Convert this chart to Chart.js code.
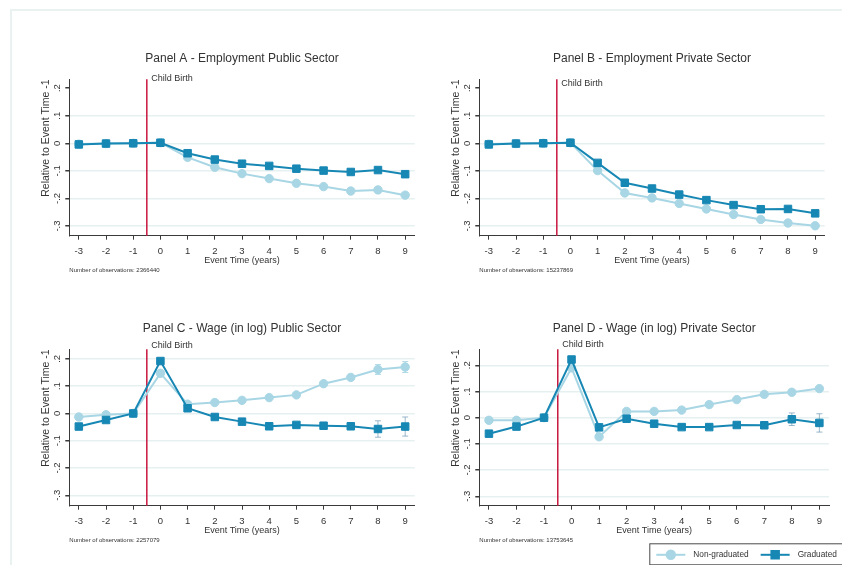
<!DOCTYPE html>
<html>
<head>
<meta charset="utf-8">
<script src="https://cdn.jsdelivr.net/npm/chart.js@4.4.1/dist/chart.umd.min.js"></script>
<style>
  html, body { margin: 0; padding: 0; background: #ffffff; overflow: hidden; }
  body { width: 842px; height: 565px; position: relative; }
  #frame { position: absolute; left: 10px; top: 9px; width: 900px; height: 600px;
           border-left: 2px solid #e9f1f1; border-top: 2px solid #e9f1f1; }
  canvas { position: absolute; }
</style>
</head>
<body>
<div id="frame"></div>
<canvas id="panelA" width="421" height="240" style="left:0px;top:40px"></canvas>
<canvas id="panelB" width="421" height="240" style="left:410px;top:40px"></canvas>
<canvas id="panelC" width="421" height="240" style="left:0px;top:310px"></canvas>
<canvas id="panelD" width="432" height="255" style="left:410px;top:310px"></canvas>
<script>
// Event time relative to the child's birth (years)
const eventTime = [-3, -2, -1, 0, 1, 2, 3, 4, 5, 6, 7, 8, 9];
const xTickValues = [-3, -2, -1, 0, 1, 2, 3, 4, 5, 6, 7, 8, 9];
const yTickValues = [-0.3, -0.2, -0.1, 0, 0.1, 0.2];
const yTickLabels = ['-.3', '-.2', '-.1', '0', '.1', '.2'];
const seriesNames = ['Non-graduated', 'Graduated'];
const panelTitles = [
  'Panel A - Employment Public Sector',
  'Panel B - Employment Private Sector',
  'Panel C - Wage (in log) Public Sector',
  'Panel D - Wage (in log) Private Sector'
];
const observationCounts = [2366440, 15237869, 2257079, 13753645];

// Estimated coefficients, relative to event time -1
const empPublicNonGrad  = [-0.003, -0.001, 0, 0.002, -0.051, -0.087, -0.110, -0.128, -0.145, -0.157, -0.173, -0.169, -0.188];
const empPublicGrad     = [-0.004, -0.001, 0, 0.002, -0.036, -0.059, -0.074, -0.082, -0.092, -0.099, -0.104, -0.097, -0.112];
const empPrivateNonGrad = [-0.003, -0.001, 0, 0.002, -0.099, -0.180, -0.198, -0.218, -0.238, -0.258, -0.276, -0.289, -0.299];
const empPrivateGrad    = [-0.004, -0.001, 0, 0.002, -0.071, -0.143, -0.164, -0.186, -0.206, -0.224, -0.239, -0.238, -0.254];
const wagePublicNonGrad = [-0.013, -0.005, 0, 0.147, 0.034, 0.040, 0.048, 0.058, 0.068, 0.109, 0.132, 0.161, 0.170];
const wagePublicGrad    = [-0.048, -0.024, 0, 0.192, 0.019, -0.013, -0.030, -0.047, -0.042, -0.045, -0.047, -0.057, -0.048];
const wagePrivateNonGrad = [-0.010, -0.010, 0, 0.190, -0.073, 0.024, 0.024, 0.029, 0.050, 0.069, 0.089, 0.097, 0.111];
const wagePrivateGrad    = [-0.061, -0.034, 0, 0.222, -0.037, -0.004, -0.023, -0.036, -0.036, -0.028, -0.029, -0.006, -0.020];

// Half-widths of the confidence intervals (only the visible ones)
const wagePublicNonGradCI  = [0, 0, 0, 0, 0, 0, 0, 0, 0, 0, 0, 0.018, 0.020];
const wagePublicGradCI     = [0, 0, 0, 0, 0, 0, 0, 0, 0, 0, 0, 0.030, 0.035];
const wagePrivateGradCI    = [0, 0, 0, 0, 0, 0, 0, 0, 0, 0, 0, 0.024, 0.035];

const FONT = "'Liberation Sans', Arial, Helvetica, sans-serif";
const TEXT = '#333333';
const GRAD = '#1787b4';
const NONGRAD = '#a8d6e4';
const BIRTH = '#c8173f';
const GRID = '#e6f0f0';
const AXIS = '#3a3a3a';

Chart.defaults.font.family = FONT;
Chart.defaults.color = TEXT;

const points = (vals) => eventTime.map((t, i) => ({ x: t, y: vals[i] }));

// Extra drawing: confidence bars, child-birth line, rotated y labels, legend
const stataExtras = {
  id: 'stataExtras',
  beforeDatasetsDraw(chart, args, opts) {
    const { ctx, chartArea, scales: { x, y } } = chart;
    chart.data.datasets.forEach((ds) => {
      if (!ds.ci) return;
      ctx.save();
      ctx.strokeStyle = ds.ciColor;
      ctx.lineWidth = 1;
      ds.data.forEach((p, i) => {
        const h = ds.ci[i];
        if (!h) return;
        const px = x.getPixelForValue(p.x);
        const y1 = y.getPixelForValue(p.y + h);
        const y2 = y.getPixelForValue(p.y - h);
        ctx.beginPath();
        ctx.moveTo(px, y1); ctx.lineTo(px, y2);
        ctx.moveTo(px - 3, y1); ctx.lineTo(px + 3, y1);
        ctx.moveTo(px - 3, y2); ctx.lineTo(px + 3, y2);
        ctx.stroke();
      });
      ctx.restore();
    });
    const bx = x.getPixelForValue(opts.eventAt);
    ctx.save();
    ctx.strokeStyle = BIRTH;
    ctx.lineWidth = 1.5;
    ctx.beginPath();
    ctx.moveTo(bx, chartArea.top);
    ctx.lineTo(bx, chartArea.bottom);
    ctx.stroke();
    ctx.restore();
  },
  afterDraw(chart, args, opts) {
    const { ctx, chartArea, scales: { x, y } } = chart;
    ctx.save();
    // y tick labels, written vertically
    ctx.fillStyle = TEXT;
    ctx.font = '9.5px ' + FONT;
    ctx.textAlign = 'center';
    ctx.textBaseline = 'middle';
    yTickValues.forEach((v, i) => {
      const py = y.getPixelForValue(v);
      ctx.save();
      ctx.translate(chartArea.left - 12, py);
      ctx.rotate(-Math.PI / 2);
      ctx.fillText(yTickLabels[i], 0, 0);
      ctx.restore();
    });
    // child birth note
    const bx = x.getPixelForValue(opts.eventAt);
    ctx.font = '9px ' + FONT;
    ctx.textAlign = 'left';
    ctx.fillText(opts.note, bx + 4.5, y.getPixelForValue(opts.noteY));
    // legend
    if (opts.legend) {
      const L = opts.legend;
      ctx.strokeStyle = '#4a4a4a';
      ctx.lineWidth = 1;
      ctx.strokeRect(L.x + 0.5, L.y + 0.5, 300, L.h);
      const cy = L.y + L.h / 2 + 1;
      const metas = [chart.data.datasets[1], chart.data.datasets[0]];
      let cx = L.x + 7;
      metas.forEach((ds) => {
        ctx.strokeStyle = ds.borderColor;
        ctx.lineWidth = ds.borderWidth;
        ctx.beginPath();
        ctx.moveTo(cx, cy); ctx.lineTo(cx + 29, cy);
        ctx.stroke();
        ctx.fillStyle = ds.pointBackgroundColor;
        ctx.strokeStyle = ds.pointBorderColor;
        Chart.helpers.drawPoint(ctx, {
          pointStyle: ds.pointStyle, radius: ds.pointRadius,
          borderWidth: ds.pointBorderWidth, rotation: 0
        }, cx + 14.5, cy);
        ctx.fillStyle = TEXT;
        ctx.font = '8.3px ' + FONT;
        ctx.textAlign = 'left';
        ctx.textBaseline = 'middle';
        ctx.fillText(ds.label, cx + 37, cy);
        cx += 37 + ctx.measureText(ds.label).width + 12;
      });
    }
    ctx.restore();
  }
};

function makePanel(id, idx, nonGrad, grad, yMin, yMax, noteY, opts = {}) {
  const hideTopGrid = !!opts.hideTopGrid;
  return new Chart(document.getElementById(id), {
    type: 'line',
    data: {
      datasets: [
        {
          label: seriesNames[1], data: points(grad), order: 0,
          borderColor: GRAD, backgroundColor: GRAD, borderWidth: 2,
          pointStyle: 'rect', pointRadius: 5.3, pointBackgroundColor: GRAD,
          pointBorderColor: GRAD, pointBorderWidth: 1,
          ci: opts.gradCI, ciColor: 'rgba(120,160,185,0.75)'
        },
        {
          label: seriesNames[0], data: points(nonGrad), order: 1,
          borderColor: NONGRAD, backgroundColor: NONGRAD, borderWidth: 2,
          pointStyle: 'circle', pointRadius: 4.2, pointBackgroundColor: NONGRAD,
          pointBorderColor: NONGRAD, pointBorderWidth: 1,
          ci: opts.nonGradCI, ciColor: 'rgba(168,214,228,0.9)'
        }
      ]
    },
    options: {
      responsive: false,
      animation: false,
      events: [],
      layout: { padding: { left: 0, right: opts.padRight || 2, top: 0, bottom: opts.padBottom || 5.7 } },
      plugins: {
        legend: { display: false },
        tooltip: { enabled: false },
        title: {
          display: true, text: panelTitles[idx], fullSize: false,
          color: TEXT, font: { size: 12, weight: 'normal' },
          padding: { top: 11.5, bottom: 13.4 }
        },
        subtitle: {
          display: true, text: 'Number of observations: ' + observationCounts[idx],
          position: 'bottom', align: 'start', fullSize: false,
          color: TEXT, font: { size: 6 }, padding: { top: 1.4, bottom: 0 }
        },
        stataExtras: { eventAt: -0.5, note: 'Child Birth', noteY: noteY, legend: opts.legend }
      },
      scales: {
        x: {
          type: 'linear', min: -3.35, max: 9.35,
          afterBuildTicks: (s) => { s.ticks = xTickValues.map((v) => ({ value: v })); },
          afterFit: (s) => { s.height = 30; },
          ticks: { font: { size: 9.5 }, color: TEXT, padding: 6, maxRotation: 0 },
          grid: { display: true, drawOnChartArea: false, drawTicks: true, tickLength: 4, tickColor: AXIS },
          border: { display: true, color: AXIS, width: 1 },
          title: { display: true, text: 'Event Time (years)', color: TEXT, font: { size: 9 }, padding: { top: 0, bottom: 0 } }
        },
        y: {
          type: 'linear', min: yMin, max: yMax,
          afterBuildTicks: (s) => { s.ticks = yTickValues.map((v) => ({ value: v })); },
          afterFit: (s) => { s.width = 69.3; },
          ticks: { display: false },
          grid: {
            color: (c) => (hideTopGrid && c.tick && c.tick.value === 0.2) ? 'rgba(0,0,0,0)' : GRID,
            lineWidth: 1.5, drawTicks: true, tickLength: 4, tickColor: AXIS
          },
          border: { display: true, color: AXIS, width: 1 },
          title: {
            display: true, text: 'Relative to Event Time -1', align: 'end',
            color: TEXT, font: { size: 10.5 }, padding: { top: 40, bottom: 0 }
          }
        }
      }
    },
    plugins: [stataExtras]
  });
}

makePanel('panelA', 0, empPublicNonGrad, empPublicGrad, -0.335, 0.232, 0.234, { hideTopGrid: true });
makePanel('panelB', 1, empPrivateNonGrad, empPrivateGrad, -0.335, 0.232, 0.217, { hideTopGrid: true });
makePanel('panelC', 2, wagePublicNonGrad, wagePublicGrad, -0.338, 0.235, 0.249,
  { nonGradCI: wagePublicNonGradCI, gradCI: wagePublicGradCI });
makePanel('panelD', 3, wagePrivateNonGrad, wagePrivateGrad, -0.336, 0.261, 0.28,
  { gradCI: wagePrivateGradCI, padRight: 13, padBottom: 20.7,
    legend: { x: 239.3, y: 233.3, h: 21 } });
</script>
</body>
</html>
